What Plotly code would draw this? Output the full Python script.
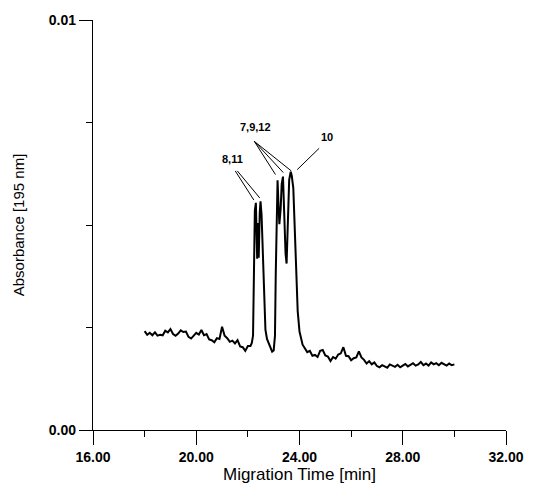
import plotly.graph_objects as go

# ---- data ----
time_min = [
    18.0, 18.1, 18.2, 18.3, 18.4, 18.5, 18.6, 18.7, 18.8, 18.9,
    19.0, 19.1, 19.2, 19.3, 19.4, 19.5, 19.6, 19.7, 19.8, 19.9,
    20.0, 20.1, 20.2, 20.3, 20.4, 20.5, 20.6, 20.7, 20.8, 20.9,
    21.0, 21.1, 21.2, 21.3, 21.4, 21.5, 21.6, 21.7, 21.8, 21.9,
    22.0, 22.1, 22.15,
    22.20, 22.24, 22.27, 22.31, 22.34, 22.36, 22.39, 22.42, 22.46, 22.49,
    22.53, 22.58, 22.63, 22.68, 22.74, 22.80, 22.87, 22.94, 23.00, 23.05,
    23.08, 23.11, 23.15, 23.18, 23.22, 23.27, 23.31, 23.36, 23.40, 23.46,
    23.50, 23.55, 23.60, 23.66, 23.70, 23.76, 23.80, 23.86, 23.93, 24.00,
    24.06, 24.12, 24.20, 24.30,
    24.4, 24.5, 24.6, 24.7, 24.8, 24.9, 25.0, 25.1, 25.2, 25.3,
    25.4, 25.5, 25.6, 25.7, 25.8, 25.9, 26.0, 26.1, 26.2, 26.3,
    26.4, 26.5, 26.6, 26.7, 26.8, 26.9, 27.0, 27.1, 27.2, 27.3,
    27.4, 27.5, 27.6, 27.7, 27.8, 27.9, 28.0, 28.1, 28.2, 28.3,
    28.4, 28.5, 28.6, 28.7, 28.8, 28.9, 29.0, 29.1, 29.2, 29.3,
    29.4, 29.5, 29.6, 29.7, 29.8, 29.9, 30.0,
]
absorbance = [
    0.00241, 0.00232, 0.00237, 0.00231, 0.00238, 0.00230, 0.00232, 0.00231, 0.00242, 0.00238,
    0.00246, 0.00234, 0.00230, 0.00235, 0.00243, 0.00239, 0.00240, 0.00227, 0.00223, 0.00229,
    0.00237, 0.00233, 0.00244, 0.00231, 0.00234, 0.00221, 0.00219, 0.00214, 0.00224, 0.00222,
    0.00252, 0.00230, 0.00224, 0.00215, 0.00218, 0.00211, 0.00219, 0.00204, 0.00202, 0.00193,
    0.00205, 0.00205, 0.00212,
    0.00230, 0.00420, 0.00535, 0.00554, 0.00470, 0.00418, 0.00505, 0.00420, 0.00530, 0.00558,
    0.00525, 0.00440, 0.00330, 0.00245, 0.00222, 0.00212, 0.00200, 0.00191, 0.00194, 0.00230,
    0.00380, 0.00500, 0.00609, 0.00560, 0.00502, 0.00540, 0.00600, 0.00618, 0.00540, 0.00430,
    0.00406, 0.00540, 0.00610, 0.00630, 0.00620, 0.00590, 0.00520, 0.00406, 0.00290, 0.00240,
    0.00222, 0.00208, 0.00200, 0.00190,
    0.00193, 0.00181, 0.00183, 0.00178, 0.00193, 0.00195, 0.00182, 0.00179, 0.00168, 0.00178,
    0.00174, 0.00184, 0.00187, 0.00202, 0.00181, 0.00180, 0.00170, 0.00175, 0.00177, 0.00192,
    0.00177, 0.00171, 0.00162, 0.00168, 0.00160, 0.00165, 0.00156, 0.00153, 0.00158, 0.00155,
    0.00152, 0.00160, 0.00156, 0.00154, 0.00159, 0.00153, 0.00157, 0.00161, 0.00155, 0.00158,
    0.00163, 0.00157, 0.00160, 0.00166, 0.00158, 0.00162, 0.00157, 0.00165, 0.00160, 0.00163,
    0.00158, 0.00164, 0.00161, 0.00157, 0.00162, 0.00158, 0.00160,
]

x_tick_vals = [16, 20, 24, 28, 32]
x_tick_text = ["16.00", "20.00", "24.00", "28.00", "32.00"]
y_tick_vals = [0.0, 0.01]
y_tick_text = ["0.00", "0.01"]

# peak labels and their leader lines (data coordinates)
peak_labels = ["8,11", "7,9,12", "10"]
peak_label_x = [21.40, 22.28, 25.05]
peak_label_y = [0.00661, 0.00740, 0.00714]
leader_lines = [
    [(21.51, 0.00632, 22.23, 0.00561), (21.59, 0.00632, 22.46, 0.00566)],
    [(22.25, 0.00704, 23.07, 0.00623), (22.25, 0.00704, 23.37, 0.00628),
     (22.25, 0.00704, 23.68, 0.00632)],
    [(24.76, 0.00687, 23.91, 0.00635)],
]

FONT = "Liberation Sans, Arial, Helvetica, sans-serif"

fig = go.Figure()
fig.add_trace(go.Scatter(
    x=time_min, y=absorbance, mode="lines",
    line=dict(color="black", width=2),
    showlegend=False, hoverinfo="skip",
))

shapes = []
for group in leader_lines:
    for (x0, y0, x1, y1) in group:
        shapes.append(dict(type="line", xref="x", yref="y",
                           x0=x0, y0=y0, x1=x1, y1=y1,
                           line=dict(color="black", width=1)))

annotations = []
for lab, lx, ly in zip(peak_labels, peak_label_x, peak_label_y):
    annotations.append(dict(x=lx, y=ly, xref="x", yref="y", text=lab,
                            showarrow=False,
                            font=dict(family=FONT, size=11, color="black",
                                      weight="bold")))

fig.update_layout(
    width=536, height=489,
    margin=dict(l=93, r=22, t=18, b=52),
    paper_bgcolor="white", plot_bgcolor="white",
    font=dict(family=FONT, color="black"),
    shapes=shapes, annotations=annotations,
    showlegend=False,
)
fig.update_xaxes(
    range=[16, 32], showgrid=False, zeroline=False,
    showline=True, linecolor="black", linewidth=1.3,
    tickmode="array", tickvals=x_tick_vals, ticktext=x_tick_text,
    ticks="outside", ticklen=14, tickwidth=1.3, tickcolor="black",
    minor=dict(dtick=2, tick0=16, ticks="outside", ticklen=6,
               tickwidth=1.2, tickcolor="black", showgrid=False),
    tickfont=dict(family=FONT, size=14, color="black", weight="bold"),
    title=dict(text="Migration Time [min]", standoff=0,
               font=dict(family=FONT, size=17, color="black")),
)
fig.update_yaxes(
    range=[0, 0.01], showgrid=False, zeroline=False,
    showline=True, linecolor="black", linewidth=1.3,
    tickmode="array", tickvals=y_tick_vals, ticktext=y_tick_text,
    ticks="outside", ticklen=13, tickwidth=1.3, tickcolor="black",
    minor=dict(dtick=0.0025, tick0=0, ticks="outside", ticklen=6,
               tickwidth=1.2, tickcolor="black", showgrid=False),
    tickfont=dict(family=FONT, size=14, color="black", weight="bold"),
    title=dict(text="Absorbance [195 nm]", standoff=20,
               font=dict(family=FONT, size=15, color="black")),
)

fig.write_html("out.html")
